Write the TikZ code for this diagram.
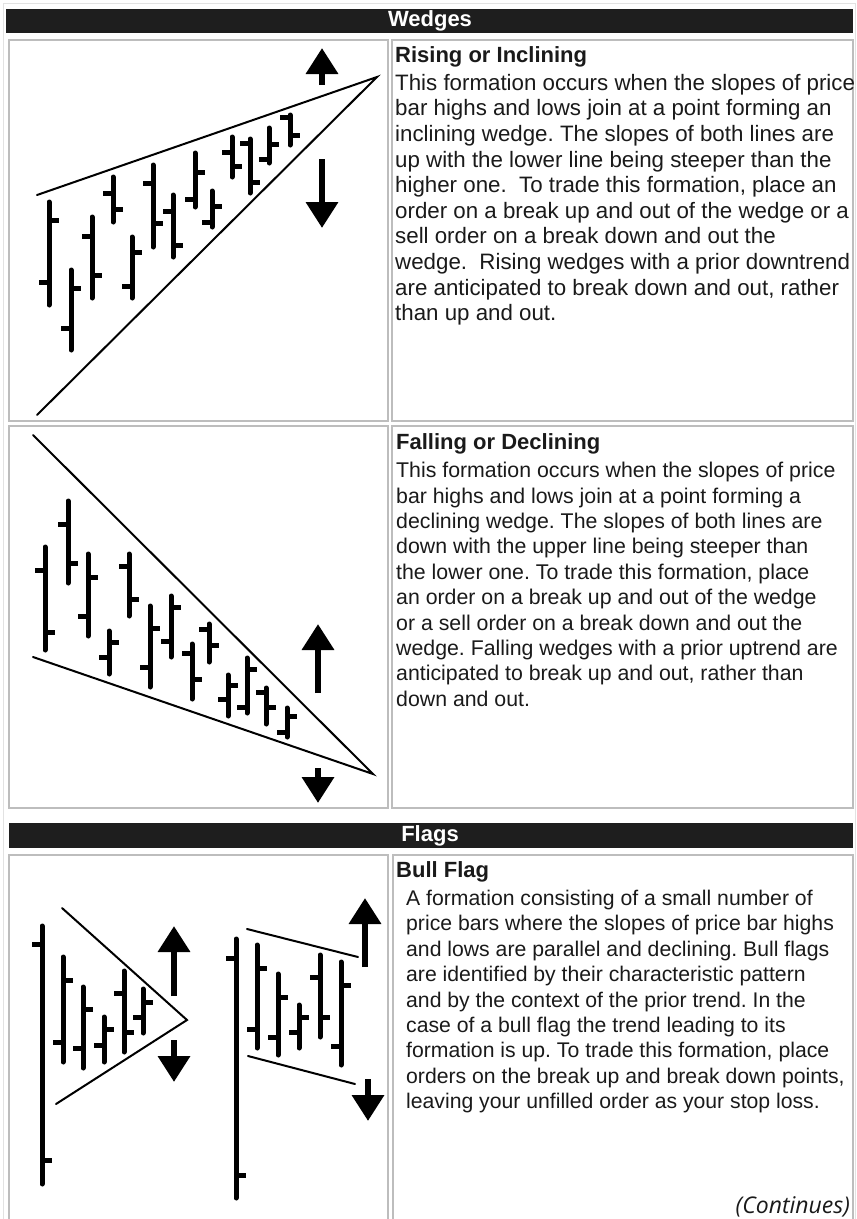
\documentclass[tikz,border=0pt]{standalone}
\usepackage{fontspec}
\setmainfont{Liberation Sans}
\newfontfamily\noteFont{Open Sans}
\usepackage{tikz}
\usetikzlibrary{arrows.meta}
\definecolor{borderGray}{HTML}{BDBDBD}
\definecolor{frameGray}{HTML}{E2E2E2}
\definecolor{headerBlack}{HTML}{1E1E1E}
\definecolor{barBlack}{HTML}{000000}
\definecolor{textBlack}{HTML}{1A1A1A}
\frenchspacing
% x, high, low, open, close
\newcommand{\pricebar}[5]{%
  \draw[priceBar] (#1,#2) -- (#1,#3);
  \draw[priceTick] (#1-10,#4) -- (#1,#4);
  \draw[priceTick] (#1,#5) -- (#1+10,#5);
}

\begin{document}
\begin{tikzpicture}[x=1pt,y=-1pt,
  priceBar/.style={barBlack,line width=5pt,line cap=round},
  priceTick/.style={barBlack,line width=5pt},
  trendLine/.style={barBlack,line width=2pt,line cap=round},
  bigArrow/.style={barBlack,line width=6.5pt,-{Triangle[length=26pt,width=31pt]}},
  cell/.style={draw=borderGray,line width=2pt},
  headBar/.style={fill=headerBlack},
  headText/.style={white,font=\fontsize{22}{25}\bfseries\selectfont,inner sep=0pt},
  titleText/.style={textBlack,font=\fontsize{22}{25}\bfseries\selectfont,inner sep=0pt,anchor=base west},
  bodyText/.style={textBlack,inner sep=0pt,align=left,anchor=north west}]
\useasboundingbox (0,0) rectangle (857,1219);
\fill[white] (0,0) rectangle (857,1219);
\draw[frameGray,line width=1pt] (3,1219) -- (3,3) -- (855,3) -- (855,1219);

% table frame
\fill[headBar] (6,9) rectangle (853,33);
\node[headText] (wedgeHead) at (430,21) {Wedges};
\draw[cell] (9,40) rectangle (388,421);
\draw[cell] (392,40) rectangle (853,421);
\draw[cell] (9,426) rectangle (388,808);
\draw[cell] (392,426) rectangle (853,808);
\fill[headBar] (9,823) rectangle (853,848);
\node[headText] (flagHead) at (430,836) {Flags};
\draw[cell] (9,855) rectangle (388,1230);
\draw[cell] (393,855) rectangle (853,1230);

% rising wedge
\draw[trendLine] (37,195) -- (377,77) -- (37,415);
\pricebar{49}{202}{305}{282}{220}
\pricebar{71}{270}{350}{328}{288}
\pricebar{92}{217}{298}{236}{275}
\pricebar{113}{177}{222}{193}{209}
\pricebar{132}{237}{298}{286}{252}
\pricebar{153}{165}{247}{183}{223}
\pricebar{173}{195}{257}{211}{245}
\pricebar{195}{153}{207}{199}{172}
\pricebar{212}{191}{227}{222}{206}
\pricebar{232}{137}{177}{152}{166}
\pricebar{250}{139}{193}{143}{182}
\pricebar{269}{128}{163}{159}{144}
\pricebar{290}{115}{145}{117}{135}
\draw[bigArrow] (322,85) -- (322,48);
\draw[bigArrow] (322,159) -- (322,228);

\node[titleText] (risingTitle) at (395,62) {Rising or Inclining};
\node[bodyText,font=\fontsize{22.3}{25.6}\selectfont] (risingText) at (395,74) {This formation occurs when the slopes of price\\
bar highs and lows join at a point forming an\\
inclining wedge. The slopes of both lines are\\
up with the lower line being steeper than the\\
higher one.~ To trade this formation, place an\\
order on a break up and out of the wedge or a\\
sell order on a break down and out the\\
wedge.~ Rising wedges with a prior downtrend\\
are anticipated to break down and out, rather\\
than up and out.};

% falling wedge
\draw[trendLine] (33,435) -- (373,774) -- (33,657);
\pricebar{45}{547}{650}{570}{632}
\pricebar{68}{501}{583}{524}{563}
\pricebar{88}{554}{636}{616}{577}
\pricebar{109}{631}{674}{657}{642}
\pricebar{129}{554}{616}{566}{599}
\pricebar{150}{606}{687}{667}{628}
\pricebar{171}{596}{657}{641}{607}
\pricebar{192}{644}{699}{653}{679}
\pricebar{209}{624}{662}{629}{645}
\pricebar{228}{675}{716}{699}{685}
\pricebar{247}{658}{713}{707}{669}
\pricebar{266}{688}{724}{692}{707}
\pricebar{287}{708}{737}{732}{716}
\draw[bigArrow] (318,693) -- (318,624);
\draw[bigArrow] (318,768) -- (318,803);

\node[titleText] (fallingTitle) at (396,449) {Falling or Declining};
\node[bodyText,font=\fontsize{21.3}{25.4}\selectfont] (fallingText) at (396,462) {This formation occurs when the slopes of price\\
bar highs and lows join at a point forming a\\
declining wedge. The slopes of both lines are\\
down with the upper line being steeper than\\
the lower one. To trade this formation, place\\
an order on a break up and out of the wedge\\
or a sell order on a break down and out the\\
wedge. Falling wedges with a prior uptrend are\\
anticipated to break up and out, rather than\\
down and out.};

% bull flag, pennant
\draw[trendLine] (62,908) -- (187,1020) -- (56,1104);
\pricebar{42}{926}{1184}{944}{1160}
\pricebar{63}{957}{1062}{1042}{980}
\pricebar{83}{987}{1068}{1048}{1009}
\pricebar{104}{1017}{1062}{1045}{1029}
\pricebar{124}{971}{1052}{993}{1032}
\pricebar{143}{989}{1033}{1017}{1002}
\draw[bigArrow] (174,996) -- (174,926);
\draw[bigArrow] (174,1040) -- (174,1082);

% bull flag, channel
\draw[trendLine] (247,929) -- (358,957);
\draw[trendLine] (248,1056) -- (355,1084);
\pricebar{236}{939}{1198}{958}{1175}
\pricebar{257}{945}{1048}{1029}{968}
\pricebar{278}{974}{1055}{1037}{997}
\pricebar{299}{1005}{1048}{1032}{1017}
\pricebar{320}{955}{1037}{977}{1017}
\pricebar{341}{962}{1065}{1046}{985}
\draw[bigArrow] (365,967) -- (365,898);
\draw[bigArrow] (368,1079) -- (368,1121);

\node[titleText] (bullTitle) at (396,877) {Bull Flag};
\node[bodyText,font=\fontsize{21.2}{25.4}\selectfont] (bullText) at (406,890) {A formation consisting of a small number of\\
price bars where the slopes of price bar highs\\
and lows are parallel and declining. Bull flags\\
are identified by their characteristic pattern\\
and by the context of the prior trend. In the\\
case of a bull flag the trend leading to its\\
formation is up. To trade this formation, place\\
orders on the break up and break down points,\\
leaving your unfilled order as your stop loss.};

\node[textBlack,font=\noteFont\itshape\fontsize{23}{26}\selectfont,inner sep=0pt,anchor=base east] (contNote) at (850,1213) {(Continues)};
\end{tikzpicture}
\end{document}
